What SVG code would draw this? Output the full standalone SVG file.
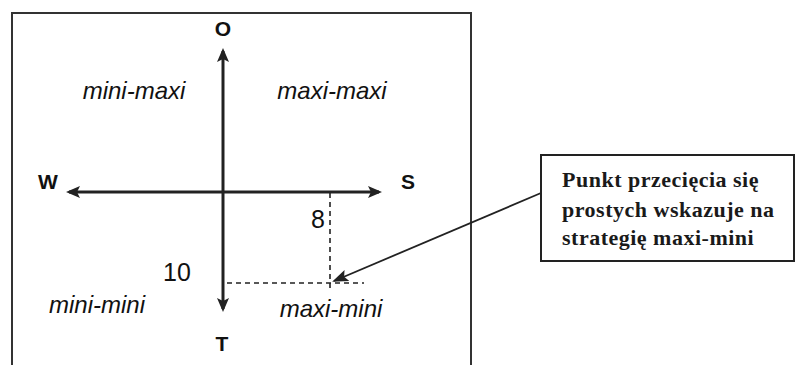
<svg xmlns="http://www.w3.org/2000/svg" width="795" height="365" viewBox="0 0 795 365">
<style>
.lbl{font-family:"Liberation Sans",Arial,sans-serif;fill:#111;text-anchor:middle}
.b{font-weight:bold;font-size:21px}
.i{font-style:italic;font-size:24px}
.n{font-size:25px}
.note{font-family:"Liberation Serif","Times New Roman",serif;font-size:22px;font-weight:bold;letter-spacing:0.5px;fill:#1a1a1a}
.axis{stroke:#222;stroke-width:3;fill:none}
.dash{stroke:#222;stroke-width:1.6;stroke-dasharray:5,4;fill:none}
</style>
<defs>
<marker id="ah" markerWidth="14" markerHeight="12" refX="11" refY="6" orient="auto" markerUnits="userSpaceOnUse" viewBox="0 0 14 12">
<path d="M0,0 L14,6 L0,12 L3,6 Z" fill="#222"/>
</marker>
<marker id="ah2" markerWidth="16" markerHeight="12" refX="14" refY="6" orient="auto" markerUnits="userSpaceOnUse" viewBox="0 0 16 12">
<path d="M0,0 L16,6 L0,12 L3,6 Z" fill="#222"/>
</marker>
</defs>
<rect width="795" height="365" fill="#fff"/>
<g id="frame">
<path d="M12,365 V13 H471 V365" stroke="#333" stroke-width="2" fill="none"/>
</g>
<g id="connectors">
<line class="axis" x1="223" y1="192" x2="223" y2="51" marker-end="url(#ah)"/>
<line class="axis" x1="223" y1="192" x2="223" y2="309" marker-end="url(#ah)"/>
<line class="axis" x1="223" y1="192" x2="69" y2="192" marker-end="url(#ah)"/>
<line class="axis" x1="223" y1="192" x2="379" y2="192" marker-end="url(#ah)"/>
<line class="dash" x1="330" y1="193" x2="330" y2="288"/>
<line class="dash" x1="227" y1="283" x2="364" y2="283"/>
<line x1="541" y1="193" x2="334" y2="281" stroke="#222" stroke-width="1.8" marker-end="url(#ah2)"/>
</g>
<g id="labels">
<text class="lbl b" x="223" y="36">O</text>
<text class="lbl b" x="222" y="351">T</text>
<text class="lbl b" x="48" y="189">W</text>
<text class="lbl b" x="408" y="189">S</text>
<text class="lbl i" x="134" y="99">mini-maxi</text>
<text class="lbl i" x="332" y="99">maxi-maxi</text>
<text class="lbl i" x="97" y="313">mini-mini</text>
<text class="lbl i" x="331" y="317">maxi-mini</text>
<text class="lbl n" x="318" y="228">8</text>
<text class="lbl n" x="177" y="281">10</text>
</g>
<g id="note">
<rect x="541" y="155" width="253" height="106" fill="#fff" stroke="#222" stroke-width="2"/>
<text class="note" x="562" y="187">Punkt przecięcia się</text>
<text class="note" x="562" y="217">prostych wskazuje na</text>
<text class="note" x="562" y="245">strategię maxi-mini</text>
</g>
</svg>
